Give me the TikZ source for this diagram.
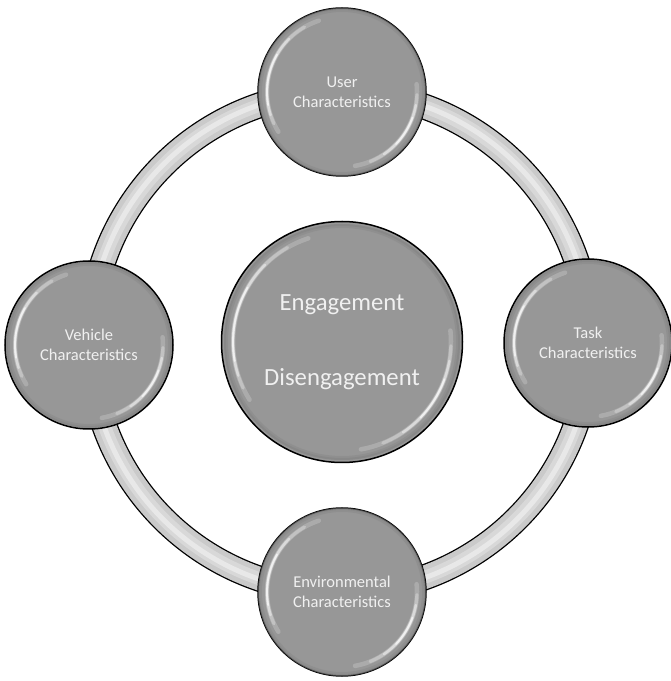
\documentclass[tikz,border=0pt]{standalone}
\usepackage{fontspec}
\setmainfont{Carlito}
\usetikzlibrary{calc}

\definecolor{ballmid}{HTML}{979797}
\definecolor{ballrim}{HTML}{7E7E7E}
\definecolor{ringgrey}{HTML}{CACACA}
\definecolor{ringmid}{HTML}{D8D8D8}
\definecolor{ringlight}{HTML}{E8E8E8}
\definecolor{labeltext}{HTML}{F0F0F0}

% darker rim just inside the outline, then soft white highlights
% on the upper-left and lower-right of a ball
\newcommand{\glossarcs}[2]{%
  \draw[ballrim, line width=4pt, opacity=0.3] (#1.center) circle[radius=#2+7];
  \draw[ballrim, line width=2pt, opacity=0.4] (#1.center) circle[radius=#2+8];
  \foreach \a/\b/\o/\w in {108/212/0.2/4.5, 120/205/0.28/3.2, 135/198/0.4/2.4, 150/190/0.6/1.8,
                           -80/6/0.2/4.5, -68/-2/0.28/3.2, -56/-10/0.4/2.4, -44/-20/0.6/1.8}
    \draw[white, line width=\w pt, opacity=\o, line cap=round]
      ([shift={(\a:#2)}]#1.center) arc[start angle=\a, end angle=\b, radius=#2];
}

\tikzset{
  ball/.style={circle, draw=black, line width=1.5pt, fill=ballmid,
               inner sep=0pt, align=center, text=labeltext},
  satellite/.style={ball, minimum size=168pt,
               font=\fontsize{16.5}{20}\selectfont},
  hubball/.style={ball, minimum size=241pt,
               font=\fontsize{24.7}{75}\selectfont},
  balllabel/.style={draw=none, fill=none},
}

\begin{document}
\begin{tikzpicture}[x=1pt, y=1pt]
  \useasboundingbox (0,0) rectangle (671,681);

  % the ring linking the four outer balls
  \coordinate (hub) at (340,339);
  \draw[black, line width=26pt] (hub) circle[radius=250];
  \draw[ringgrey, line width=23.4pt] (hub) circle[radius=250];
  \draw[ringmid, line width=13pt] (hub) circle[radius=250];
  \draw[ringlight, line width=5pt] (hub) circle[radius=250.5];

  % outer balls
  \node[satellite] (user) at (342,589) {};
  \node[satellite] (task) at (588,338) {};
  \node[satellite] (env)  at (342,89)  {};
  \node[satellite] (veh)  at (89,336)  {};

  % central ball
  \node[hubball] (core) at (342,339) {};

  \glossarcs{user}{75}
  \glossarcs{task}{74}
  \glossarcs{env}{75}
  \glossarcs{veh}{74}
  \glossarcs{core}{109}

  % labels on top of the highlights
  \node[satellite, balllabel] (userlbl) at (user) {User\\Characteristics};
  \node[satellite, balllabel] (tasklbl) at (task) {Task\\Characteristics};
  \node[satellite, balllabel] (envlbl)  at (env)  {Environmental\\Characteristics};
  \node[satellite, balllabel] (vehlbl)  at (veh)  {Vehicle\\Characteristics};
  \node[hubball, balllabel] (corelbl) at (core) {Engagement\\Disengagement};
\end{tikzpicture}
\end{document}
